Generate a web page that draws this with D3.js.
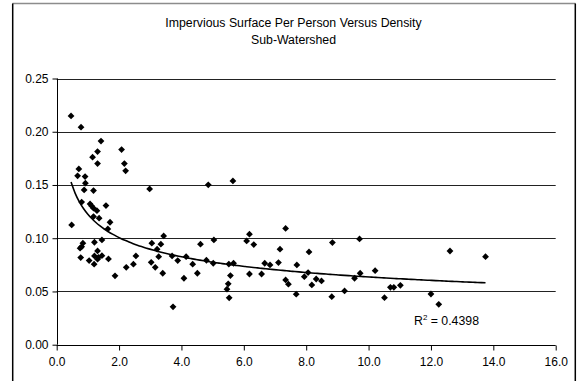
<!DOCTYPE html>
<html>
<head>
<meta charset="utf-8">
<script src="https://cdn.jsdelivr.net/npm/d3@7"></script>
<style>
  html, body { margin: 0; padding: 0; background: #fff; }
  svg { display: block; font-family: "Liberation Sans", Arial, sans-serif; }
</style>
</head>
<body>
<svg id="chart" width="579" height="381"></svg>
<script>
// chart text
const titleLines = ["Impervious Surface Per Person Versus Density", "Sub-Watershed"];
const rSquaredLabel = "0.4398";

// axis ticks
const xTicks = [0, 2, 4, 6, 8, 10, 12, 14, 16];
const yTicks = [0, 0.05, 0.10, 0.15, 0.20, 0.25];

// density (x) and impervious surface per person (y)
const density = [
  0.46, 0.78, 1.42, 1.31, 1.15, 1.31, 2.08, 2.17, 2.21, 0.71,
  0.67, 0.91, 0.92, 0.88, 1.18, 2.98, 4.86, 5.65, 0.80, 1.07,
  1.12, 1.18, 1.29, 1.58, 1.18, 1.36, 1.71, 1.64, 0.48, 0.84,
  0.80, 0.75, 1.21, 1.45, 0.77, 1.04, 1.21, 1.31, 1.20, 1.31,
  1.34, 1.45, 1.66, 1.87, 2.23, 2.46, 2.54, 3.05, 3.43, 3.34,
  3.22, 3.27, 3.03, 3.16, 3.40, 3.73, 3.70, 3.88, 4.15, 4.08,
  4.36, 4.51, 4.61, 4.80, 5.04, 5.02, 5.46, 5.50, 5.53, 5.57,
  5.52, 5.67, 6.09, 6.18, 6.32, 6.18, 6.57, 6.67, 6.84, 7.11,
  7.16, 7.34, 7.34, 7.43, 7.68, 7.70, 8.09, 7.94, 8.06, 8.18,
  8.32, 8.49, 8.84, 8.82, 9.23, 9.55, 9.73, 9.71, 10.21, 10.51,
  10.70, 10.81, 11.02, 12.00, 12.25, 12.61, 13.75
];
const imperviousPerPerson = [
  0.2148, 0.2043, 0.1912, 0.1814, 0.1761, 0.1701, 0.1833, 0.1701, 0.1633, 0.1651,
  0.1586, 0.1579, 0.1517, 0.1454, 0.1448, 0.1463, 0.1501, 0.1538, 0.1340, 0.1322,
  0.1303, 0.1282, 0.1259, 0.1307, 0.1203, 0.1188, 0.1150, 0.1087, 0.1125, 0.0953,
  0.0921, 0.0906, 0.0962, 0.0984, 0.0818, 0.0790, 0.0834, 0.0881, 0.0756, 0.0803,
  0.0821, 0.0836, 0.0805, 0.0647, 0.0727, 0.0756, 0.0834, 0.0953, 0.1022, 0.0944,
  0.0897, 0.0827, 0.0774, 0.0727, 0.0671, 0.0356, 0.0834, 0.0790, 0.0827, 0.0624,
  0.0756, 0.0671, 0.0944, 0.0793, 0.0984, 0.0765, 0.0521, 0.0572, 0.0440, 0.0649,
  0.0757, 0.0765, 0.0975, 0.1038, 0.0940, 0.0664, 0.0664, 0.0765, 0.0749, 0.0771,
  0.0897, 0.1092, 0.0608, 0.0568, 0.0474, 0.0749, 0.0871, 0.0639, 0.0677, 0.0561,
  0.0617, 0.0599, 0.0959, 0.0451, 0.0505, 0.0624, 0.0671, 0.0993, 0.0695, 0.0442,
  0.0539, 0.0539, 0.0558, 0.0476, 0.0379, 0.0880, 0.0827
];

const svg = d3.select("#chart");
const plot = { left: 56.7, right: 555.7, top: 78.5, bottom: 344.7 };

const x = d3.scaleLinear().domain([0, 16]).range([plot.left, plot.right]);
const y = d3.scaleLinear().domain([0, 0.25]).range([plot.bottom, plot.top]);

// outer frame
svg.append("line")
  .attr("x1", 12.5).attr("x2", 575.5).attr("y1", 3.5).attr("y2", 3.5)
  .attr("stroke", "#8c8c8c").attr("stroke-width", 1.5);
svg.append("path")
  .attr("d", "M12.7,3.5V381 M575.3,3.5V381")
  .attr("fill", "none").attr("stroke", "#000").attr("stroke-width", 1.5);

// title
svg.append("g")
  .attr("font-size", 12.3)
  .attr("text-anchor", "middle")
  .attr("fill", "#000")
  .selectAll("text")
  .data(titleLines)
  .join("text")
    .attr("x", 293.5)
    .attr("y", (d, i) => 27 + i * 17)
    .text(d => d);

// gridlines
svg.append("g")
  .selectAll("line")
  .data(yTicks.filter(d => d > 0))
  .join("line")
    .attr("x1", plot.left).attr("x2", plot.right)
    .attr("y1", d => Math.round(y(d)) + 0.5).attr("y2", d => Math.round(y(d)) + 0.5)
    .attr("stroke", "#222");

// axes
const yAxis = d3.axisLeft(y).tickValues(yTicks).tickFormat(d3.format(".2f")).tickSize(5).tickPadding(4);
const xAxis = d3.axisBottom(x).tickValues(xTicks).tickFormat(d3.format(".1f")).tickSize(5).tickPadding(7);

svg.append("g")
  .attr("transform", `translate(${Math.round(plot.left) + 0.5},0)`)
  .call(yAxis)
  .call(g => g.select(".domain").attr("d", `M0,${y(0.25)}V${y(0)}`))
  .call(g => g.selectAll("text").attr("font-size", 12).attr("fill", "#000"));

svg.append("g")
  .attr("transform", `translate(0,${Math.round(plot.bottom) + 0.5})`)
  .call(xAxis)
  .call(g => g.select(".domain").attr("d", `M${x(0)},0H${x(16)}`))
  .call(g => g.selectAll("text").attr("font-size", 12).attr("fill", "#000"));

svg.selectAll(".domain, .tick line").attr("stroke", "#000");
svg.selectAll(".tick text").attr("font-family", "Liberation Sans, Arial, sans-serif");

// power trendline fitted on the data (log-log least squares)
const points = density.map((d, i) => ({ x: d, y: imperviousPerPerson[i] }));
const lx = points.map(p => Math.log(p.x));
const ly = points.map(p => Math.log(p.y));
const mx = d3.mean(lx), my = d3.mean(ly);
const slope = d3.sum(lx, (v, i) => (v - mx) * (ly[i] - my)) / d3.sum(lx, v => (v - mx) ** 2);
const coef = Math.exp(my - slope * mx);
const [xMin, xMax] = d3.extent(density);
const trend = d3.range(0, 101).map(i => {
  const xv = xMin + (xMax - xMin) * i / 100;
  return [xv, coef * Math.pow(xv, slope)];
});

svg.append("path")
  .datum(trend)
  .attr("fill", "none")
  .attr("stroke", "#000")
  .attr("stroke-width", 1.6)
  .attr("d", d3.line().x(d => x(d[0])).y(d => y(d[1])).curve(d3.curveMonotoneX));

// markers
const diamond = d3.symbol().type(d3.symbolSquare).size(23);
svg.append("g")
  .selectAll("path")
  .data(points)
  .join("path")
    .attr("transform", p => `translate(${x(p.x)},${y(p.y)}) rotate(45)`)
    .attr("d", diamond)
    .attr("fill", "#000");

// R squared label
const rl = svg.append("text")
  .attr("x", 414)
  .attr("y", 325)
  .attr("font-size", 12.3)
  .attr("fill", "#000");
rl.append("tspan").text("R");
rl.append("tspan").attr("font-size", 8).attr("dy", -5).text("2");
rl.append("tspan").attr("dy", 5).text(" = " + rSquaredLabel);
</script>
</body>
</html>
